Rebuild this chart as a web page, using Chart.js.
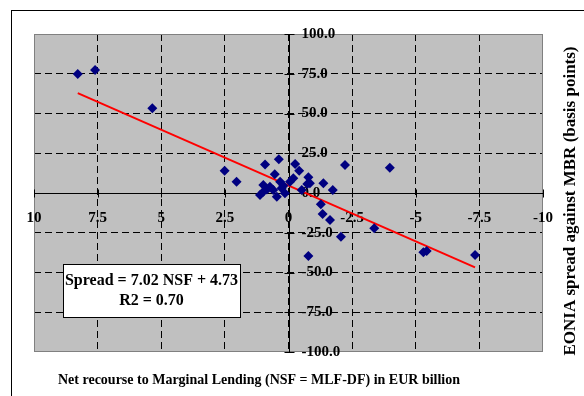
<!DOCTYPE html>
<html>
<head>
<meta charset="utf-8">
<script src="https://cdn.jsdelivr.net/npm/chart.js@4.4.0/dist/chart.umd.min.js"></script>
<style>
  body { margin: 0; background: #fff; }
  #wrap { position: relative; width: 584px; height: 396px; }
  #frame { position: absolute; left: 11px; top: 10px; right: 0; bottom: 0;
           border-left: 1px solid #000; border-top: 1px solid #000; pointer-events: none; }
</style>
</head>
<body>
<div id="wrap">
  <canvas id="myChart" width="584" height="396"></canvas>
  <div id="frame"></div>
</div>
<script>
// net recourse to marginal lending (EUR bn) and EONIA spread (bp)
const nsf = [8.28, 7.60, 5.35, 2.51, 2.04, 0.92, 0.38, -0.26, -0.42, 0.54,
             0.99, 1.12, 0.73, 0.60, 0.46, 0.27, 0.33, 0.14, -0.06, -0.19,
             -0.52, -0.78, -0.84, -1.37, -1.74, -1.27, -2.22, -3.98, -1.34, -1.63,
             -2.06, -0.78, -3.37, -5.43, -5.30, -7.33, 0.99, -0.74, 0.85, 0.20];
const spread = [74.8, 77.4, 53.3, 14.0, 7.1, 18.0, 21.3, 18.2, 14.0, 11.8,
                5.0, -1.3, 4.0, 1.9, -2.3, 3.0, 7.1, -0.2, 7.1, 9.2,
                1.9, 9.9, 6.1, 6.1, 1.9, -7.0, 17.6, 15.9, -13.2, -17.0,
                -27.5, -39.6, -22.2, -36.5, -37.3, -39.0, 0.8, 5.7, 2.2, 4.5];

const xTicks = [10, 7.5, 5, 2.5, 0, -2.5, -5, -7.5, -10];
const yTicks = [100, 75, 50, 25, 0, -25, -50, -75, -100];

// OLS fit: Spread = slope * NSF + intercept
const slope = 7.02;
const intercept = 4.73;
const r2 = 0.70;

const xTitle = 'Net recourse to Marginal Lending (NSF = MLF-DF) in EUR billion';
const yTitle = 'EONIA spread against MBR (basis points)';

const points = nsf.map((x, i) => ({ x: x, y: spread[i] }));
const xLo = Math.min(...nsf), xHi = Math.max(...nsf);
const fitLine = [
  { x: xHi, y: slope * xHi + intercept },
  { x: xLo, y: slope * xLo + intercept }
];

const serif = '"Liberation Serif", "Times New Roman", serif';

const edgeColor = (ctx) => {
  const v = ctx.tick && ctx.tick.value;
  return (Math.abs(v) === 10 || Math.abs(v) === 100) ? 'rgba(0,0,0,0)' : '#000';
};

const excelFrame = {
  id: 'excelFrame',
  beforeDraw(chart) {
    const { ctx, chartArea: a } = chart;
    ctx.save();
    ctx.fillStyle = '#fff';
    ctx.fillRect(0, 0, chart.width, chart.height);
    ctx.fillStyle = '#c0c0c0';
    ctx.fillRect(a.left, a.top, a.right - a.left, a.bottom - a.top);
    ctx.restore();
  },
  beforeDatasetsDraw(chart) {
    const { ctx, chartArea: a, scales: { x, y } } = chart;
    const x0 = Math.round(x.getPixelForValue(0)) + 0.5;
    const y0 = Math.round(y.getPixelForValue(0)) + 0.5;
    ctx.save();
    // plot border
    ctx.strokeStyle = '#808080';
    ctx.lineWidth = 1;
    ctx.strokeRect(a.left + 0.5, a.top + 0.5, a.right - a.left - 1, a.bottom - a.top - 1);
    // axes crossing at the origin
    ctx.strokeStyle = '#000';
    ctx.beginPath();
    ctx.moveTo(a.left, y0); ctx.lineTo(a.right, y0);
    ctx.moveTo(x0, a.top); ctx.lineTo(x0, a.bottom);
    x.ticks.forEach(t => {
      const px = Math.round(x.getPixelForValue(t.value)) + 0.5;
      ctx.moveTo(px, y0 - 4); ctx.lineTo(px, y0 + 4);
    });
    y.ticks.forEach(t => {
      const py = Math.round(y.getPixelForValue(t.value)) + 0.5;
      ctx.moveTo(x0 - 5, py); ctx.lineTo(x0 + 5, py);
    });
    ctx.stroke();
    // tick labels
    ctx.fillStyle = '#000';
    ctx.font = 'bold 15px ' + serif;
    ctx.textBaseline = 'middle';
    ctx.textAlign = 'center';
    x.ticks.forEach(t => {
      ctx.fillText(String(t.value), x.getPixelForValue(t.value), y0 + 25);
    });
    ctx.textAlign = 'left';
    y.ticks.forEach(t => {
      ctx.fillText(t.value.toFixed(1), x0 + 12, y.getPixelForValue(t.value));
    });
    ctx.restore();
  },
  afterDraw(chart) {
    const { ctx, chartArea: a } = chart;
    ctx.save();
    // regression statistics box
    const bx = a.left + 29, by = a.top + 230, bw = 177, bh = 53;
    ctx.fillStyle = '#fff';
    ctx.fillRect(bx, by, bw, bh);
    ctx.strokeStyle = '#000';
    ctx.lineWidth = 1;
    ctx.strokeRect(bx + 0.5, by + 0.5, bw, bh);
    ctx.fillStyle = '#000';
    ctx.font = 'bold 16px ' + serif;
    ctx.textAlign = 'center';
    ctx.textBaseline = 'middle';
    ctx.fillText('Spread = ' + slope.toFixed(2) + ' NSF + ' + intercept.toFixed(2), bx + bw / 2, by + 17);
    ctx.fillText('R2 = ' + r2.toFixed(2), bx + bw / 2, by + 37);
    // axis titles
    ctx.font = 'bold 14px ' + serif;
    ctx.fillText(xTitle, 259, 380);
    ctx.font = 'bold 17px ' + serif;
    ctx.translate(571, 201);
    ctx.rotate(-Math.PI / 2);
    ctx.fillText(yTitle, 0, 0);
    ctx.restore();
  }
};

const ctx = document.getElementById('myChart').getContext('2d');
const myChart = new Chart(ctx, {
  type: 'scatter',
  data: {
    datasets: [
      {
        label: 'Spread',
        data: points,
        pointStyle: 'rectRot',
        pointRadius: 5,
        backgroundColor: '#000080',
        borderColor: '#000080',
        borderWidth: 0
      },
      {
        label: 'Fit',
        type: 'line',
        data: fitLine,
        borderColor: '#ff0000',
        borderWidth: 2,
        pointRadius: 0,
        fill: false
      }
    ]
  },
  options: {
    responsive: false,
    animation: false,
    events: [],
    layout: { padding: { left: 34, top: 34, right: 41, bottom: 44 } },
    plugins: {
      legend: { display: false },
      tooltip: { enabled: false }
    },
    scales: {
      x: {
        type: 'linear',
        reverse: true,
        min: -10,
        max: 10,
        afterBuildTicks: (s) => { s.ticks = xTicks.map(v => ({ value: v })); },
        ticks: { display: false },
        border: { display: false, dash: [7, 4] },
        grid: { color: edgeColor, drawTicks: false, lineWidth: 1 }
      },
      y: {
        min: -100,
        max: 100,
        afterBuildTicks: (s) => { s.ticks = yTicks.map(v => ({ value: v })); },
        ticks: { display: false },
        border: { display: false, dash: [7, 4] },
        grid: { color: edgeColor, drawTicks: false, lineWidth: 1 }
      }
    }
  },
  plugins: [excelFrame]
});
</script>
</body>
</html>
